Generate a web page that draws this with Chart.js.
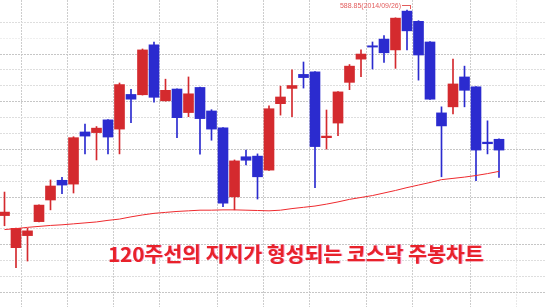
<!DOCTYPE html>
<html>
<head>
<meta charset="utf-8">
<script src="https://cdn.jsdelivr.net/npm/chart.js@4.4.1/dist/chart.umd.min.js"></script>
<style>
  html, body { margin: 0; padding: 0; background: #fff; }
  #wrap { width: 545px; height: 307px; }
</style>
</head>
<body>
<div id="wrap"><canvas id="chart" width="545" height="307"></canvas></div>
<script>
// ===== DATA (KOSDAQ weekly, 2014) =====
const weeks = [
  '2014/01/24', '2014/01/31', '2014/02/07', '2014/02/14', '2014/02/21', '2014/02/28',
  '2014/03/07', '2014/03/14', '2014/03/21', '2014/03/28', '2014/04/04', '2014/04/11',
  '2014/04/18', '2014/04/25', '2014/05/02', '2014/05/09', '2014/05/16', '2014/05/23',
  '2014/05/30', '2014/06/06', '2014/06/13', '2014/06/20', '2014/06/27', '2014/07/04',
  '2014/07/11', '2014/07/18', '2014/07/25', '2014/08/01', '2014/08/08', '2014/08/15',
  '2014/08/22', '2014/08/29', '2014/09/05', '2014/09/12', '2014/09/19', '2014/09/26',
  '2014/10/03', '2014/10/10', '2014/10/17', '2014/10/24', '2014/10/31', '2014/11/07',
  '2014/11/14', '2014/11/21', '2014/11/28', '2014/12/05', '2014/12/12', '2014/12/19'
];

const open = [
  524.2, 514.1, 517.9, 522.3, 529.1, 535.3, 534.1, 550.5, 550.3, 554.3, 551.4,
  562.3, 562.2, 577.9, 560.3, 564.0, 556.6, 564.5, 557.1, 551.8, 530.1, 542.7,
  542.9, 538.5, 559.4, 564.2, 568.6, 569.4, 548.7, 553.3, 566.1, 573.4, 577.6,
  579.7, 576.3, 588.5, 585.3, 578.8, 556.5, 558.4, 567.8, 564.7, 547.3, 548.2
];
const high = [
  531.6, 520.3, 520.2, 527.6, 535.4, 536.2, 549.0, 553.0, 552.2, 554.4, 565.9,
  563.9, 576.6, 578.8, 567.1, 564.1, 567.8, 564.6, 557.5, 551.9, 541.7, 544.8,
  543.6, 558.7, 564.9, 570.0, 572.5, 569.5, 557.4, 563.2, 571.7, 576.3, 578.8,
  580.8, 586.4, 588.85, 585.5, 578.9, 558.4, 573.4, 571.2, 564.8, 554.0, 548.3
];
const low = [
  521.0, 507.8, 509.9, 522.2, 526.0, 531.1, 531.3, 543.6, 541.7, 543.6, 543.6,
  553.4, 562.1, 559.9, 560.2, 548.7, 555.3, 543.5, 547.9, 527.0, 526.0, 540.1,
  529.4, 538.4, 555.8, 555.3, 564.3, 533.0, 545.1, 549.3, 563.8, 567.9, 570.3,
  572.4, 570.5, 576.3, 566.8, 560.7, 536.4, 556.2, 558.4, 535.2, 543.6, 536.2
];
const close = [
  525.3, 520.2, 519.4, 527.5, 533.5, 533.8, 548.7, 549.2, 551.7, 548.9, 565.4,
  560.8, 576.3, 561.4, 563.6, 555.0, 562.5, 554.7, 551.4, 528.1, 541.4, 541.6,
  536.4, 557.8, 561.5, 565.1, 567.6, 545.9, 549.2, 563.1, 571.2, 575.0, 577.2,
  575.4, 586.3, 582.3, 574.7, 560.8, 552.4, 565.6, 563.6, 544.8, 546.8, 544.8
];
const ma120 = [
  519.8, 520.1, 520.5, 520.8, 521.1, 521.3, 521.6, 521.9, 522.2, 522.7, 523.1,
  523.8, 524.4, 524.9, 525.2, 525.5, 525.7, 525.9, 525.9, 526.0, 526.0, 525.9,
  525.8, 525.7, 525.9, 526.4, 526.8, 527.2, 527.8, 528.5, 529.3, 529.9, 530.5,
  531.3, 532.1, 533.0, 533.8, 534.6, 535.5, 535.9, 536.3, 536.8, 537.4, 538.1
];
const priceGrid = [500, 505, 510, 515, 520, 525, 530, 535, 540, 545, 550, 555,
                   560, 565, 570, 575, 580, 585];

const titleText = '120주선의 지지가 형성되는 코스닥 주봉차트';

// ===== STYLE =====
const RED = '#d42a2e';
const BLUE = '#2b2bcf';
const MA_RED = '#ee2a2e';

// month change -> vertical grid line between two weeks
const monthBreaks = [];
weeks.forEach((w, i) => {
  if (i > 0 && w.slice(5, 7) !== weeks[i - 1].slice(5, 7)) monthBreaks.push(i - 0.5);
});

const candleColor = open.map((o, i) => (close[i] >= o ? RED : BLUE));
const bodies = open.map((o, i) => ({ x: i, y: [o, close[i]] }));
const wicks = open.map((o, i) => ({ x: i, y: [low[i], high[i]] }));
const maPoints = ma120.map((v, i) => ({ x: i, y: v }));

// ===== TEXT OVERLAY =====
const overlay = {
  id: 'overlay',
  afterDatasetsDraw(chart) {
    const { ctx, scales } = chart;
    ctx.save();

    // highest price marker
    let hi = 0;
    high.forEach((v, i) => { if (v > high[hi]) hi = i; });
    const ax = Math.round(scales.x.getPixelForValue(hi)) + 4;
    const label = high[hi].toFixed(2) + '(' + weeks[hi] + ')';
    ctx.font = '7px "Liberation Sans", Arial, sans-serif';
    ctx.fillStyle = '#e25c5c';
    ctx.strokeStyle = '#e25c5c';
    ctx.textBaseline = 'alphabetic';
    const tw = ctx.measureText(label).width;
    const tx = ax - tw - 10;
    ctx.fillText(label, tx, 8);
    ctx.lineWidth = 1;
    ctx.beginPath();
    ctx.moveTo(tx + tw + 1, 5.5);
    ctx.lineTo(ax, 5.5);
    ctx.moveTo(ax - 0.5, 5);
    ctx.lineTo(ax - 0.5, 9);
    ctx.stroke();

    // title
    ctx.font = 'bold 20.5px "Noto Sans CJK KR", sans-serif';
    ctx.fillStyle = '#e8222a';
    ctx.shadowColor = 'rgba(235, 80, 170, 0.6)';
    ctx.shadowOffsetX = 1;
    ctx.shadowOffsetY = 0;
    ctx.fillText(titleText, 108, 262);
    ctx.restore();
  }
};

// ===== CHART =====
new Chart(document.getElementById('chart'), {
  data: {
    datasets: [
      {
        type: 'line',
        data: maPoints,
        borderColor: MA_RED,
        borderWidth: 1,
        pointRadius: 0,
        tension: 0,
        order: 0
      },
      {
        type: 'bar',
        data: bodies,
        backgroundColor: candleColor,
        barThickness: 10,
        minBarLength: 1,
        grouped: false,
        order: 1
      },
      {
        type: 'bar',
        data: wicks,
        backgroundColor: candleColor,
        barThickness: 1,
        grouped: false,
        order: 2
      }
    ]
  },
  options: {
    responsive: false,
    animation: false,
    events: [],
    layout: { padding: 0 },
    plugins: { legend: { display: false }, tooltip: { enabled: false } },
    scales: {
      x: {
        type: 'linear',
        min: -0.391,
        max: 47.0,
        offset: false,
        afterFit: s => { s.height = 0; },
        afterBuildTicks: s => { s.ticks = monthBreaks.map(v => ({ value: v })); },
        ticks: { display: false },
        grid: {
          offset: false,
          drawTicks: false,
          lineWidth: 1,
          color: c => (c.index === monthBreaks.length - 1 ? '#e8e8e8' : '#cdcdcd')
        },
        border: { display: false, dash: [2, 1] }
      },
      y: {
        type: 'linear',
        min: 495.45,
        max: 592.0,
        afterFit: s => { s.width = 0; },
        afterBuildTicks: s => { s.ticks = priceGrid.map(v => ({ value: v })); },
        ticks: { display: false },
        grid: {
          drawTicks: false,
          lineWidth: 1,
          color: c => {
            const v = c.tick ? c.tick.value : 0;
            if (v === 580) return '#efefef';
            return (v - 500) % 15 === 0 ? '#c6c6c6' : '#dedede';
          }
        },
        border: { display: false, dash: [2, 1] }
      }
    }
  },
  plugins: [overlay]
});
</script>
</body>
</html>
